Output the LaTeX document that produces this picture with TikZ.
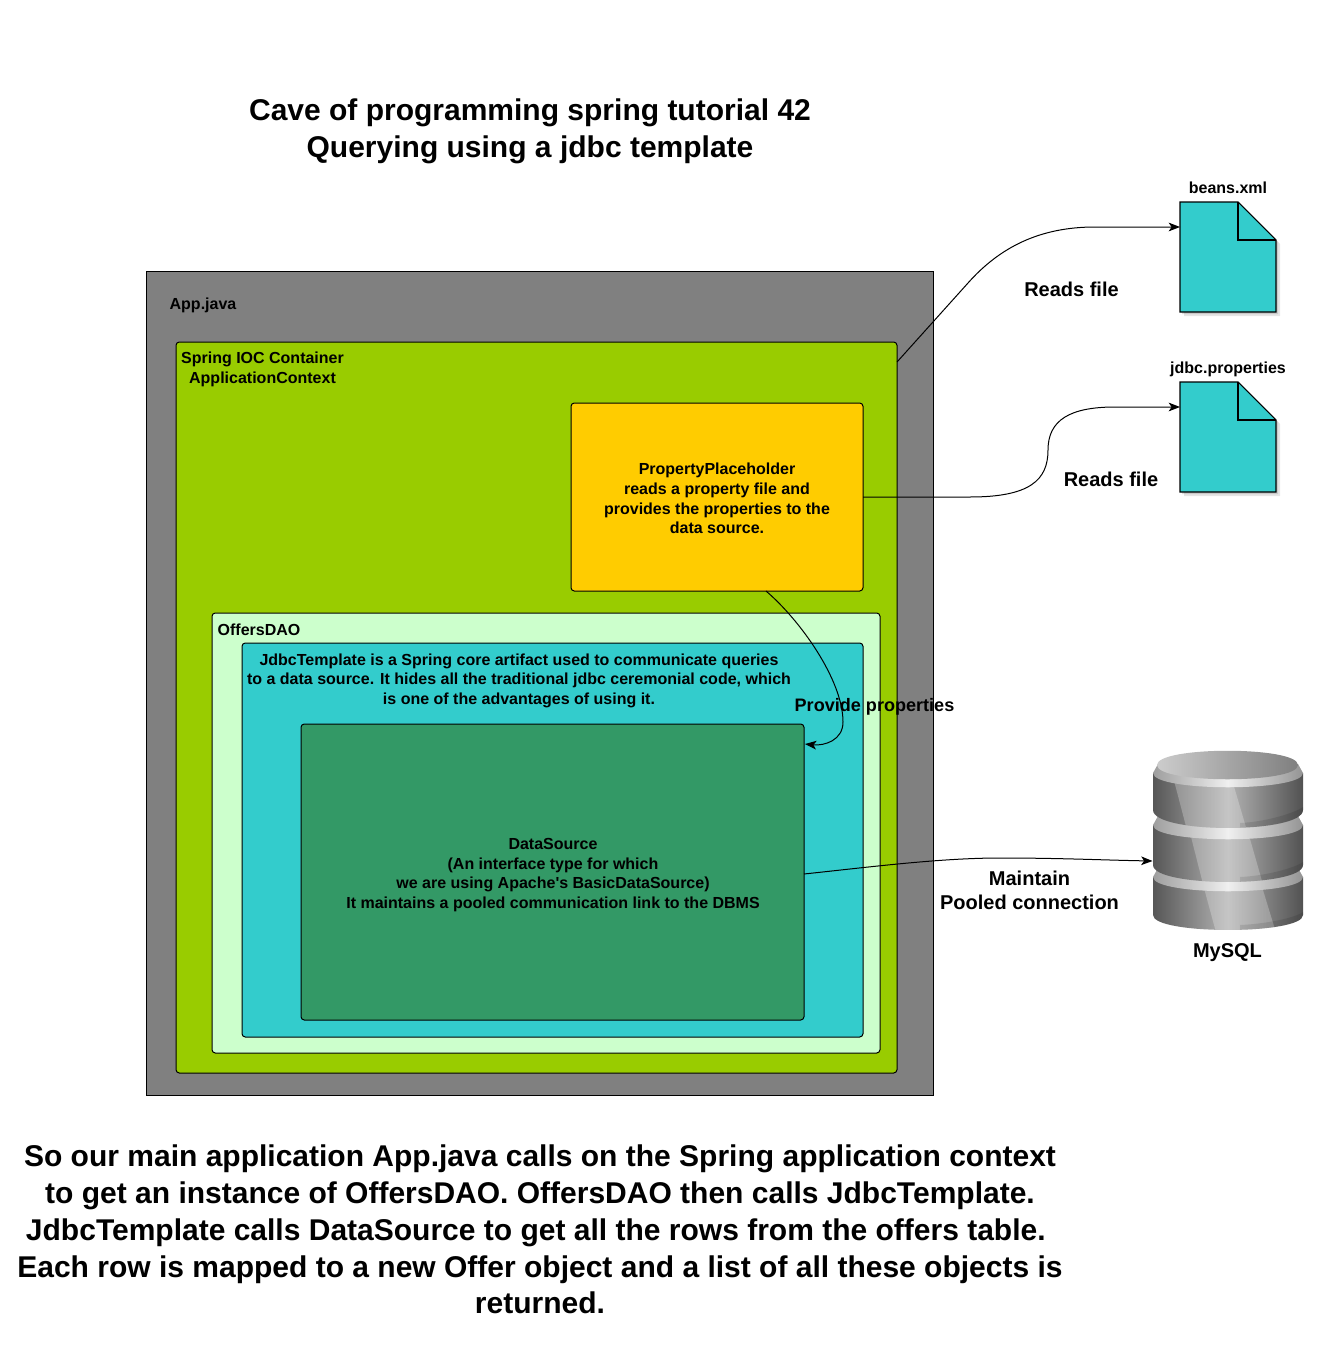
\documentclass[tikz,border=0pt]{standalone}
\usepackage{fontspec}
\setmainfont{Liberation Sans}[Ligatures=TeXOff]
\usetikzlibrary{arrows.meta,calc}
\tikzset{
  boxsize/.style 2 args={minimum width=#1*0.75pt,minimum height=#2*0.75pt},
  panel/.style={draw=black,line width=0.75pt,inner sep=0pt,outer sep=0pt,rounded corners=2.5pt},
  smalllabel/.style={inner sep=0pt,align=center,font=\smallfont},
  midlabel/.style={inner sep=0pt,align=center,font=\midfont},
  biglabel/.style={inner sep=0pt,align=center,font=\bigfont},
  ghost/.style={inner sep=0pt,outer sep=0pt},
  conn/.style={draw=black,line width=0.75pt,-{Stealth[length=8.5pt,width=6.5pt,inset=2.2pt]}},
  docshape/.style={fill=teal1,draw=black,line width=0.8pt,line join=miter},
}
\definecolor{teal1}{HTML}{33CCCC}
\definecolor{appgray}{HTML}{808080}
\definecolor{springgreen}{HTML}{99CC00}
\definecolor{yellowbox}{HTML}{FFCC00}
\definecolor{daogreen}{HTML}{CCFFCC}
\definecolor{dsgreen}{HTML}{339966}
\newcommand{\smallfont}{\bfseries\fontsize{12}{14.7}\selectfont}
\newcommand{\midfont}{\bfseries\fontsize{15}{18}\selectfont}
\newcommand{\bigfont}{\bfseries\fontsize{22.5}{27.6}\selectfont}
% document icon: #1 = left x, #2 = top y
\newcommand{\docicon}[2]{%
  \fill[black,opacity=.10] (#1+4,#2+4) -- (#1+62,#2+4) -- (#1+100,#2+42) -- (#1+100,#2+114) -- (#1+4,#2+114) -- cycle;
  \fill[black,opacity=.12] (#1+2,#2+2) -- (#1+60,#2+2) -- (#1+98,#2+40) -- (#1+98,#2+112) -- (#1+2,#2+112) -- cycle;
  \path[docshape] (#1,#2) -- (#1+58,#2) -- (#1+96,#2+38) -- (#1+96,#2+110) -- (#1,#2+110) -- cycle;
  \draw[black,line width=0.8pt] (#1+58,#2) -- (#1+58,#2+38) -- (#1+96,#2+38);
}
% database disc: #1 edge top y, #2 edge bottom y, #3 depth of bottom curve, #4 x of highlight left at top
\newcommand{\dbdisc}[4]{%
  \path[left color=black!66,right color=black!68,middle color=black!30]
    (1153,#1) -- (1153,#2) .. controls (1153,#2+1.33*#3) and (1303,#2+1.33*#3) .. (1303,#2) -- (1303,#1) -- cycle;
  \begin{scope}
    \clip (1153,#1) -- (1153,#2) .. controls (1153,#2+1.33*#3) and (1303,#2+1.33*#3) .. (1303,#2) -- (1303,#1) -- cycle;
    \fill[white,opacity=.25] (#4,#1) -- (#4+58,#1) -- (#4+58+18,#2+#3+6) -- (#4+16,#2+#3+6) -- cycle;
    \fill[black,opacity=.10] (1240,#2+#3-5) .. controls (1265,#2+#3-6) and (1295,#2+3) .. (1303,#2-3) -- (1303,#2+40) -- (1240,#2+40) -- cycle;
  \end{scope}
  \path[left color=black!38,right color=black!42,middle color=black!6]
    (1153,#1) .. controls (1153,#1+19) and (1303,#1+19) .. (1303,#1) -- (1298,#1-9) -- (1158,#1-9) -- cycle;
}
\begin{document}
\begin{tikzpicture}[x=0.75pt,y=-0.75pt]
\useasboundingbox (0,0) rectangle (1318,1366);

% title
\node[biglabel] (title) at (530,131) {Cave of programming spring tutorial 42\\Querying using a jdbc template};

% nested panels
\node[panel,rounded corners=0pt,fill=appgray,boxsize={787}{824}] (app) at (539.5,683) {};
\node[smalllabel] (applabel) at (203,305.5) {App.java};
\node[panel,fill=springgreen,boxsize={721}{731}] (spring) at (536.5,707.5) {};
\node[smalllabel] (springlabel) at (262.5,369.5) {Spring IOC Container\\ApplicationContext};
\node[panel,fill=yellowbox,boxsize={292}{188}] (holder) at (717,497) {};
\node[smalllabel] (holderlabel) at (717,498.5) {PropertyPlaceholder\\reads a property file and\\provides the properties to the\\data source.};
\node[panel,fill=daogreen,boxsize={668}{440}] (dao) at (546,833) {};
\node[smalllabel] (daolabel) at (259,629.5) {OffersDAO};
\node[panel,fill=teal1,boxsize={621}{394}] (jdbc) at (552.5,840) {};
\node[smalllabel] (jdbclabel) at (519,680.5) {JdbcTemplate is a Spring core artifact used to communicate queries\\to a data source. It hides all the traditional jdbc ceremonial code, which\\is one of the advantages of using it.};
\node[panel,fill=dsgreen,boxsize={503}{296}] (ds) at (552.5,872) {};
\node[smalllabel] (dslabel) at (553,875) {DataSource\\(An interface type for which\\we are using Apache's BasicDataSource)\\It maintains a pooled communication link to the DBMS};

% document icons
\docicon{1180}{202}
\node[ghost,boxsize={96}{110}] (beans) at (1228,257) {};
\node[smalllabel] (beanslabel) at (1228,188) {beans.xml};
\docicon{1180}{382}
\node[ghost,boxsize={96}{110}] (props) at (1228,437) {};
\node[smalllabel] (propslabel) at (1228,369) {jdbc.properties};

% database
\dbdisc{877}{915}{15}{1201}
\dbdisc{825}{865}{17}{1188}
\dbdisc{773}{810}{18}{1172}
\path[left color=black!20,right color=black!50]
  (1157,765) .. controls (1157,746) and (1298,746) .. (1298,765) .. controls (1298,784) and (1157,784) .. (1157,765) -- cycle;
\node[ghost,boxsize={151}{180}] (db) at (1228,840.5) {};
\node[midlabel] (dblabel) at (1227.5,952.5) {MySQL};

% connectors
\draw[conn] ($(spring.north east)+(0,20)$) -- (968,283) .. controls (1000,247) and (1040,227) .. (1095,227) -- (beans.west |- 0,227);
\draw[conn] (holder.east) -- (970,497) .. controls (1030,497) and (1048,480) .. (1048,450) .. controls (1048,420) and (1070,407) .. (1115,407) -- (props.west |- 0,407);
\draw[conn] ($(holder.south west)+(195,0)$) .. controls (800,620) and (843,680) .. (843,722) .. controls (843,740) and (825,746) .. ($(ds.north east)+(1,20)$);
\draw[conn] ($(ds.east)+(0,2)$) .. controls (870,867) and (940,858) .. (1000,858) .. controls (1060,858) and (1100,860) .. ($(db.west)+(0,20.5)$);

% connector labels
\node[midlabel] (l1) at (1071.5,289.5) {Reads file};
\node[midlabel] (l2) at (1111,479.5) {Reads file};
\node[midlabel,font=\bfseries\fontsize{13.55}{18}\selectfont] (l3) at (874.5,706.5) {Provide properties};
\node[midlabel] (l4) at (1029.5,890.5) {Maintain\\Pooled connection};

% bottom text
\node[biglabel] (para) at (540,1229.5) {So our main application App.java calls on the Spring application context\\to get an instance of OffersDAO. OffersDAO then calls JdbcTemplate.\\JdbcTemplate calls DataSource to get all the rows from the offers table.\rule{6.25pt}{0pt}\\Each row is mapped to a new Offer object and a list of all these objects is\\returned.};
\end{tikzpicture}
\end{document}
